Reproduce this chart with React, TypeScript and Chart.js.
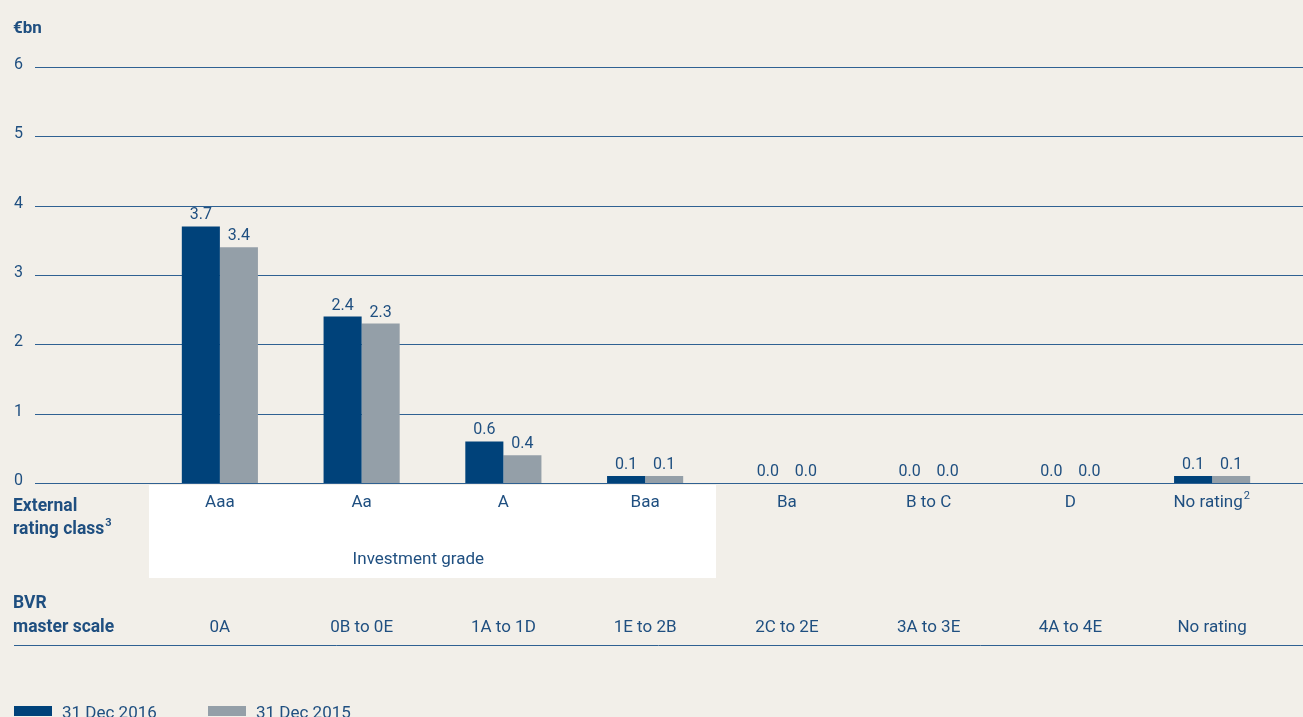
import React, { useEffect, useRef } from "react";
import { Chart, registerables, Plugin } from "chart.js";

Chart.register(...registerables);

// data
const ratingClasses: string[] = ["Aaa", "Aa", "A", "Baa", "Ba", "B to C", "D", "No rating"];
const masterScale: string[] = ["0A", "0B to 0E", "1A to 1D", "1E to 2B", "2C to 2E", "3A to 3E", "4A to 4E", "No rating"];
const values2016: number[] = [3.7, 2.4, 0.6, 0.1, 0.0, 0.0, 0.0, 0.1];
const values2015: number[] = [3.4, 2.3, 0.4, 0.1, 0.0, 0.0, 0.0, 0.1];
const yTicks: number[] = [0, 1, 2, 3, 4, 5, 6];
const seriesLabels: string[] = ["31 Dec 2016", "31 Dec 2015"];

const BG = "#f2efe9";
const TEXT = "#1f4f80";
const LINE = "#2f6192";
const DARK = "#00427a";
const GREY = "#949fa8";
const FONT = "Roboto, 'Liberation Sans', sans-serif";

const decorPlugin: Plugin<"bar"> = {
  id: "decor",
  beforeDatasetsDraw(chart) {
    const ctx = chart.ctx;
    const x = chart.scales.x;
    const y = chart.scales.y;
    ctx.save();
    // investment grade panel
    const left = x.getPixelForValue(-0.5);
    const right = x.getPixelForValue(3.5);
    ctx.fillStyle = "#ffffff";
    ctx.fillRect(left, y.getPixelForValue(0) + 2, right - left, 93);

    // grid lines and y labels
    ctx.strokeStyle = LINE;
    ctx.lineWidth = 1;
    ctx.fillStyle = TEXT;
    ctx.font = `16px ${FONT}`;
    ctx.textAlign = "left";
    ctx.textBaseline = "alphabetic";
    yTicks.forEach((t) => {
      const py = Math.round(y.getPixelForValue(t)) + 0.5;
      ctx.beginPath();
      ctx.moveTo(35, py);
      ctx.lineTo(chart.width, py);
      ctx.stroke();
      ctx.fillText(String(t), 14, py + 1);
    });
    ctx.font = `bold 17px ${FONT}`;
    ctx.fillText("€bn", 13, 33);
    ctx.restore();
  },
  afterDatasetsDraw(chart) {
    const ctx = chart.ctx;
    const x = chart.scales.x;
    const base = chart.scales.y.getPixelForValue(0);
    ctx.save();
    ctx.fillStyle = TEXT;
    ctx.font = `16px ${FONT}`;
    ctx.textAlign = "center";
    ctx.textBaseline = "alphabetic";
    chart.data.datasets.forEach((ds, di) => {
      chart.getDatasetMeta(di).data.forEach((bar, i) => {
        const v = ds.data[i] as number;
        ctx.fillText(v.toFixed(1), bar.x, bar.y - 7);
      });
    });

    // category rows
    const f = `17px ${FONT}`;
    ctx.font = f;
    ctx.textBaseline = "middle";
    ratingClasses.forEach((c, i) => {
      const px = x.getPixelForValue(i);
      if (c === "No rating") {
        const w = ctx.measureText(c).width;
        ctx.fillText(c, px - 4, base + 20);
        ctx.font = `11px ${FONT}`;
        ctx.textAlign = "left";
        ctx.fillText("2", px - 4 + w / 2 + 1, base + 13);
        ctx.font = f;
        ctx.textAlign = "center";
      } else {
        ctx.fillText(c, px, base + 20);
      }
    });
    ctx.fillText("Investment grade", x.getPixelForValue(1.4), base + 77);
    masterScale.forEach((c, i) => {
      ctx.fillText(c, x.getPixelForValue(i), base + 145);
    });

    // row titles
    ctx.textAlign = "left";
    const bf = `bold 17.5px ${FONT}`;
    ctx.font = bf;
    ctx.fillText("External", 13, base + 24);
    const t = "rating class";
    ctx.fillText(t, 13, base + 47);
    const tw = ctx.measureText(t).width;
    ctx.font = `bold 11px ${FONT}`;
    ctx.fillText("3", 13 + tw + 1, base + 40);
    ctx.font = bf;
    ctx.fillText("BVR", 13, base + 121);
    ctx.fillText("master scale", 13, base + 145);

    // rule under master scale
    ctx.strokeStyle = LINE;
    ctx.lineWidth = 1;
    ctx.beginPath();
    ctx.moveTo(14, base + 162.5);
    ctx.lineTo(chart.width, base + 162.5);
    ctx.stroke();

    // legend
    const legendX = [14, 208];
    ctx.font = `17px ${FONT}`;
    ctx.textBaseline = "alphabetic";
    chart.data.datasets.forEach((ds, di) => {
      ctx.fillStyle = ds.backgroundColor as string;
      ctx.fillRect(legendX[di], 706, 38, 10);
      ctx.fillStyle = TEXT;
      ctx.fillText(ds.label || "", legendX[di] + 48, 718);
    });
    ctx.restore();
  },
};

const App: React.FC = () => {
  const chartRef = useRef<HTMLCanvasElement>(null);

  useEffect(() => {
    const canvas = chartRef.current;
    if (!canvas) return;

    const chart = new Chart(canvas, {
      type: "bar",
      data: {
        labels: ratingClasses,
        datasets: [
          {
            label: seriesLabels[0],
            data: values2016,
            backgroundColor: DARK,
            categoryPercentage: 0.537,
            barPercentage: 1,
          },
          {
            label: seriesLabels[1],
            data: values2015,
            backgroundColor: GREY,
            categoryPercentage: 0.537,
            barPercentage: 1,
          },
        ],
      },
      options: {
        animation: false,
        responsive: false,
        devicePixelRatio: 1,
        layout: {
          padding: { left: 149, right: 20, top: 67, bottom: 234 },
        },
        plugins: {
          legend: { display: false },
          tooltip: { enabled: false },
        },
        scales: {
          x: { display: false },
          y: { display: false, min: 0, max: 6 },
        },
      },
      plugins: [decorPlugin],
    });

    return () => {
      chart.destroy();
    };
  }, []);

  return (
    <div
      style={{
        position: "fixed",
        left: 0,
        top: 0,
        width: 1303,
        height: 717,
        background: BG,
      }}
    >
      <canvas ref={chartRef} width={1303} height={717}></canvas>
    </div>
  );
};

export default App;
